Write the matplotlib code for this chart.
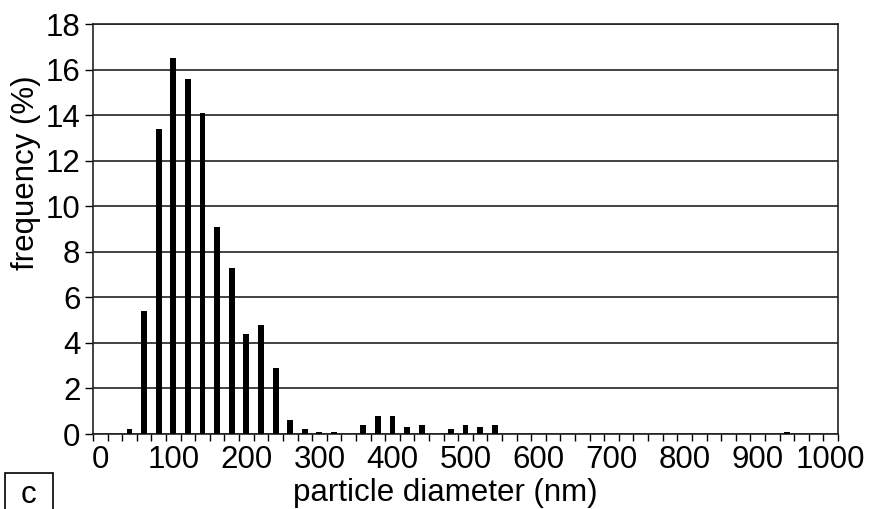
import matplotlib
matplotlib.use("Agg")
import matplotlib.pyplot as plt
from matplotlib.patches import Rectangle
import numpy as np

plt.rcParams['font.family'] = ['Liberation Sans', 'DejaVu Sans']

# particle size histogram, 20 nm bins (bin centre in nm)
diameters = [40, 60, 80, 100, 120, 140, 160, 180, 200, 220, 240, 260, 280,
             300, 320, 360, 380, 400, 420, 440, 480, 500, 520, 540, 940]
frequency = [0.2, 5.4, 13.4, 16.5, 15.6, 14.1, 9.1, 7.3, 4.4, 4.8, 2.9, 0.6, 0.2,
             0.1, 0.1, 0.4, 0.8, 0.8, 0.3, 0.4, 0.2, 0.4, 0.3, 0.4, 0.1]
x_labels = [0, 100, 200, 300, 400, 500, 600, 700, 800, 900, 1000]
y_ticks = [0, 2, 4, 6, 8, 10, 12, 14, 16, 18]

FS = 22.5

fig = plt.figure(figsize=(8.7, 5.09), dpi=100)
ax = fig.add_axes([93 / 870, 1 - 434 / 509, 745 / 870, 410 / 509])

ax.bar(diameters, frequency, width=8, color='black', zorder=3)

ax.set_xlim(-10, 1010)
ax.set_ylim(0, 18)

# category-style axis: tick marks on bin edges, labels at bin centres
ax.set_xticks(x_labels)
ax.set_xticklabels([str(v) for v in x_labels])
ax.set_xticks(np.arange(-10, 1011, 20), minor=True)
ax.tick_params(axis='x', which='major', length=0, pad=8, labelsize=FS)
ax.tick_params(axis='x', which='minor', length=5, width=1, direction='out')

ax.set_yticks(y_ticks)
ax.tick_params(axis='y', length=6, width=1, direction='out', pad=3, labelsize=FS)
ax.yaxis.grid(True, color='#222222', linewidth=1.2, zorder=0)
ax.set_axisbelow(True)

for sp in ax.spines.values():
    sp.set_linewidth(1.2)
    sp.set_color('#222222')

fig.text(445 / 870, 1 - 493 / 509, 'particle diameter (nm)', ha='center', va='center', fontsize=FS)
fig.text(26 / 870, 1 - 173 / 509, 'frequency (%)', ha='center', va='center', rotation=90, fontsize=FS)

# panel letter in a box
fig.patches.append(Rectangle((5 / 870, -0.01), 48 / 870, (509 - 473) / 509 + 0.01,
                             transform=fig.transFigure, fill=False, ec='black', lw=1.2))
fig.text(29 / 870, 1 - 495 / 509, 'c', ha='center', va='center', fontsize=FS)

fig.savefig('out.png', dpi=100)
